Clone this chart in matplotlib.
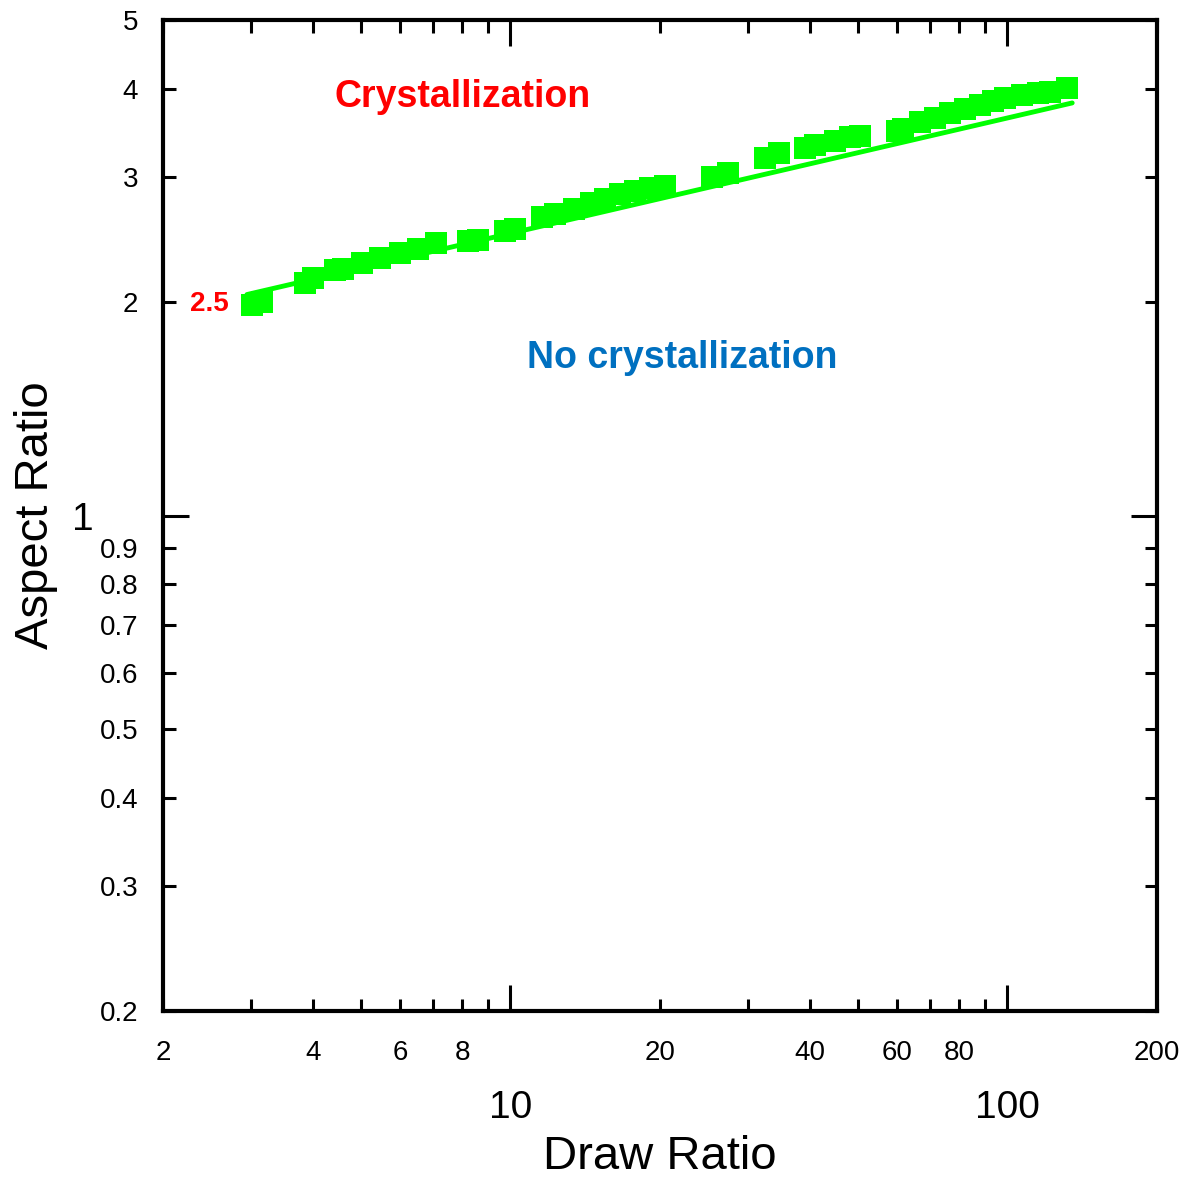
import matplotlib
matplotlib.use("Agg")
import matplotlib.pyplot as plt
from matplotlib.ticker import FixedLocator, FixedFormatter

plt.rcParams['font.family'] = ['Liberation Sans', 'DejaVu Sans']

# data
draw_ratio = [3.02, 3.16, 3.86, 4.01, 4.44, 4.60, 5.03, 5.47, 6.0, 6.52, 7.08, 8.22, 8.61,
              9.75, 10.2, 11.6, 12.3, 13.4, 14.5, 15.5, 16.6, 17.8, 19.1, 20.5, 25.4, 27.4,
              32.5, 34.7, 39.2, 41.0, 45.0, 48.2, 50.5, 60.0, 61.6, 66.7, 71.5, 76.7, 82.2,
              88.1, 93.6, 98.9, 107, 115, 122, 132]
aspect_ratio = [1.98, 2.00, 2.13, 2.16, 2.22, 2.23, 2.27, 2.31, 2.35, 2.38, 2.42, 2.44, 2.45,
                2.52, 2.54, 2.64, 2.66, 2.71, 2.76, 2.80, 2.84, 2.87, 2.90, 2.92, 3.00, 3.04,
                3.19, 3.25, 3.30, 3.33, 3.38, 3.42, 3.43, 3.49, 3.51, 3.59, 3.64, 3.70, 3.75,
                3.80, 3.85, 3.88, 3.92, 3.94, 3.96, 4.01]

# boundary line (power law, end points)
line_x = [2.95, 135]
line_y = [2.05, 3.82]

x_major = [10, 100]
x_minor = [2, 3, 4, 5, 6, 7, 8, 9, 20, 30, 40, 50, 60, 70, 80, 90, 200]
x_minor_labels = ['2', '', '4', '', '6', '', '8', '', '20', '', '40', '', '60', '', '80', '', '200']
y_major = [1]
y_minor = [0.2, 0.3, 0.4, 0.5, 0.6, 0.7, 0.8, 0.9, 2, 3, 4, 5]
y_minor_labels = ['0.2', '0.3', '0.4', '0.5', '0.6', '0.7', '0.8', '0.9', '2', '3', '4', '5']

fig = plt.figure(figsize=(11.85, 11.8), dpi=100)
ax = fig.add_axes([0.1376, 0.1432, 0.8388, 0.8398])

ax.plot(line_x, line_y, color='#00FF00', lw=3.5, solid_capstyle='round', zorder=2)
ax.plot(draw_ratio, aspect_ratio, 's', color='#00FF00', markersize=15.5, markeredgewidth=0, zorder=3)

ax.set_xscale('log')
ax.set_yscale('log')
ax.set_xlim(2, 200)
ax.set_ylim(0.2, 5)

ax.xaxis.set_major_locator(FixedLocator(x_major))
ax.xaxis.set_major_formatter(FixedFormatter([str(v) for v in x_major]))
ax.xaxis.set_minor_locator(FixedLocator(x_minor))
ax.xaxis.set_minor_formatter(FixedFormatter(x_minor_labels))
ax.yaxis.set_major_locator(FixedLocator(y_major))
ax.yaxis.set_major_formatter(FixedFormatter(['1']))
ax.yaxis.set_minor_locator(FixedLocator(y_minor))
ax.yaxis.set_minor_formatter(FixedFormatter(y_minor_labels))

ax.tick_params(which='both', direction='in', top=True, right=True, width=2.2)
ax.tick_params(which='major', length=19, labelsize=28)
ax.tick_params(which='minor', length=9, labelsize=20)
ax.tick_params(axis='x', which='minor', pad=21)
ax.tick_params(axis='x', which='major', pad=57)
ax.tick_params(axis='y', which='minor', pad=18)
ax.tick_params(axis='y', which='major', pad=50)

for s in ax.spines.values():
    s.set_linewidth(3)

ax.set_xlabel('Draw Ratio', fontsize=34, labelpad=6)
ax.set_ylabel('Aspect Ratio', fontsize=34, labelpad=10)

ax.text(8.03, 3.9, 'Crystallization', color='#FF0000', fontsize=27, fontweight='bold',
        ha='center', va='center')
ax.text(22.2, 1.67, 'No crystallization', color='#0070C0', fontsize=27, fontweight='bold',
        ha='center', va='center')
ax.text(2.48, 1.99, '2.5', color='#FF0000', fontsize=20, fontweight='bold',
        ha='center', va='center')

fig.savefig('out.png', dpi=100)
